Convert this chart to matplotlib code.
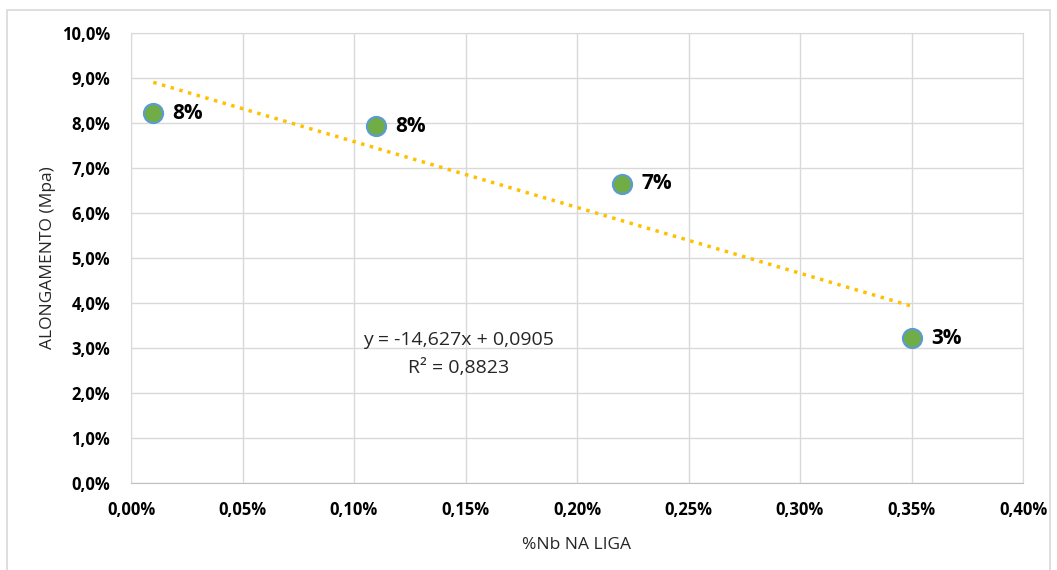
import matplotlib
matplotlib.use("Agg")
import matplotlib.pyplot as plt
from matplotlib.patches import Rectangle
from matplotlib.ticker import FuncFormatter
import numpy as np

# Nb content in the alloy (fraction) and measured elongation (fraction)
nb_content = [0.0001, 0.0011, 0.0022, 0.0035]
elongation = [0.0822, 0.0793, 0.0665, 0.0322]
point_labels = ["8%", "8%", "7%", "3%"]

# Linear trendline coefficients and fit quality
slope = -14.627
intercept = 0.0905
r_squared = 0.8823

plt.rcParams['font.family'] = ['Open Sans', 'DejaVu Sans']

fig = plt.figure(figsize=(10.57, 5.70), dpi=100)
ax = fig.add_axes([131 / 1057, 87 / 570, (1023 - 131) / 1057, (483 - 33) / 570])

# outer chart frame
fig.patches.append(Rectangle((7 / 1057, -0.01), 1043 / 1057, 1 - 10 / 570 + 0.01,
                             transform=fig.transFigure, fill=False,
                             edgecolor="#D9D9D9", linewidth=1.2))

grid_c = "#D9D9D9"
ax.set_xlim(0, 0.004)
ax.set_ylim(0, 0.10)
ax.set_xticks(np.arange(0, 0.0041, 0.0005))
ax.set_yticks(np.arange(0, 0.1001, 0.01))
ax.grid(True, color=grid_c, linewidth=1)
ax.set_axisbelow(True)
for s in ax.spines.values():
    s.set_color(grid_c)
ax.spines['bottom'].set_color("#BFBFBF")
ax.tick_params(length=0, pad=13, labelsize=12, labelcolor="#000000")
ax.tick_params(axis='y', pad=15)

ax.xaxis.set_major_formatter(FuncFormatter(lambda v, p: f"{v * 100:.2f}%".replace(".", ",")))
ax.yaxis.set_major_formatter(FuncFormatter(lambda v, p: f"{v * 100:.1f}%".replace(".", ",")))
for lbl in ax.get_xticklabels() + ax.get_yticklabels():
    lbl.set_fontweight('bold')

# trendline
xs = np.array([nb_content[0], nb_content[-1]])
ax.plot(xs, slope * xs + intercept, color="#FFC000", linewidth=2.5,
        linestyle=(0, (1, 1.6)), zorder=2)

# data points
ax.scatter(nb_content, elongation, s=190, color="#70AD47", edgecolor="#5B9BD5",
           linewidth=1.5, zorder=3)
for x, y, t in zip(nb_content, elongation, point_labels):
    ax.annotate(t, (x, y), xytext=(14, 0), textcoords="offset points",
                va="center", ha="left", fontsize=15, fontweight="bold", color="#000000")

ax.text(0.00147, 0.0317, f"y = {slope:.3f}x + {intercept:.4f}".replace(".", ","),
        ha="center", va="center", fontsize=14, color="#262626")
ax.text(0.00147, 0.0255, f"R² = {r_squared:.4f}".replace(".", ","),
        ha="center", va="center", fontsize=14, color="#262626")

ax.set_xlabel("%Nb NA LIGA", fontsize=12.5, color="#262626", labelpad=13)
ax.set_ylabel("ALONGAMENTO (Mpa)", fontsize=12.5, color="#262626", labelpad=4)

fig.savefig("out.png", dpi=100)
